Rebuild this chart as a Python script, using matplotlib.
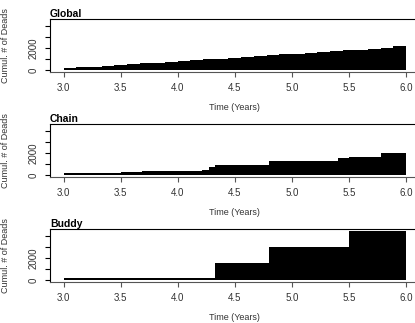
import matplotlib.pyplot as plt

plt.rcParams['font.family'] = ['Liberation Sans', 'DejaVu Sans']

# step start times and cumulative deaths (value held until next step, last ends at t_end)
t_end = 6.0

global_t = [3.0, 3.111, 3.222, 3.333, 3.444, 3.556, 3.667, 3.778, 3.889,
            4.0, 4.111, 4.222, 4.333, 4.444, 4.556, 4.667, 4.778, 4.889,
            5.0, 5.111, 5.222, 5.333, 5.444, 5.556, 5.667, 5.778, 5.889]
global_y = [180, 250, 320, 390, 460, 530, 600, 680, 750,
            830, 900, 980, 1050, 1130, 1200, 1280, 1350, 1420,
            1500, 1570, 1650, 1720, 1800, 1870, 1950, 2030, 2150]

chain_t = [3.0, 3.5, 3.69, 4.21, 4.27, 4.33, 4.8, 5.4, 5.5, 5.78]
chain_y = [160, 240, 340, 480, 720, 900, 1290, 1590, 1650, 1980]

buddy_t = [3.0, 4.33, 4.8, 5.5]
buddy_y = [160, 1600, 3000, 4480]

panels = [("Global", global_t, global_y),
          ("Chain", chain_t, chain_y),
          ("Buddy", buddy_t, buddy_y)]

xticks = [3.0, 3.5, 4.0, 4.5, 5.0, 5.5, 6.0]
yticks = [0, 1000, 2000, 3000, 4000]
ytick_labels = ['0', '', '2000', '', '']

ymax = max(buddy_y)

fig = plt.figure(figsize=(4.15, 3.23), dpi=100)
W, H = 415, 323
left, right = 50, 419.7
tops = [19, 124, 229]
ph = 53

for (name, t, y), top in zip(panels, tops):
    ax = fig.add_axes([left / W, 1 - (top + ph) / H, (right - left) / W, ph / H])
    xs = list(t) + [t_end]
    ys = list(y) + [y[-1]]
    ax.fill_between(xs, 0, ys, step='post', color='black', linewidth=0)
    ax.set_xlim(2.88, 6.12)
    ax.set_ylim(-0.04 * ymax, 1.04 * ymax)

    ax.set_xticks(xticks)
    ax.set_xticklabels([f"{v:.1f}" for v in xticks])
    ax.set_yticks(yticks)
    ax.set_yticklabels(ytick_labels, rotation=90, va='center')
    ax.tick_params(axis='x', length=3.5, width=0.8, pad=4.5, labelsize=7,
                   color='#555555', labelcolor='#333333')
    ax.tick_params(axis='y', length=3.6, width=0.8, pad=4.5, labelsize=7,
                   color='black', labelcolor='#333333')

    for s in ['top', 'left', 'right']:
        ax.spines[s].set_color('black')
        ax.spines[s].set_linewidth(0.8)
    ax.spines['bottom'].set_color('#555555')
    ax.spines['bottom'].set_linewidth(0.8)

    ax.set_title(name, loc='left', fontsize=7.5, fontweight='bold', pad=1.5)
    ax.set_xlabel("Time (Years)", fontsize=6.5, color='#333333')
    ax.xaxis.set_label_coords(0.5, -0.58)
    ax.set_ylabel("Cumul. # of Deads", fontsize=6.5, color='#333333')
    ax.yaxis.set_label_coords(-0.108, 0.5)

fig.savefig("out.png", dpi=100)
